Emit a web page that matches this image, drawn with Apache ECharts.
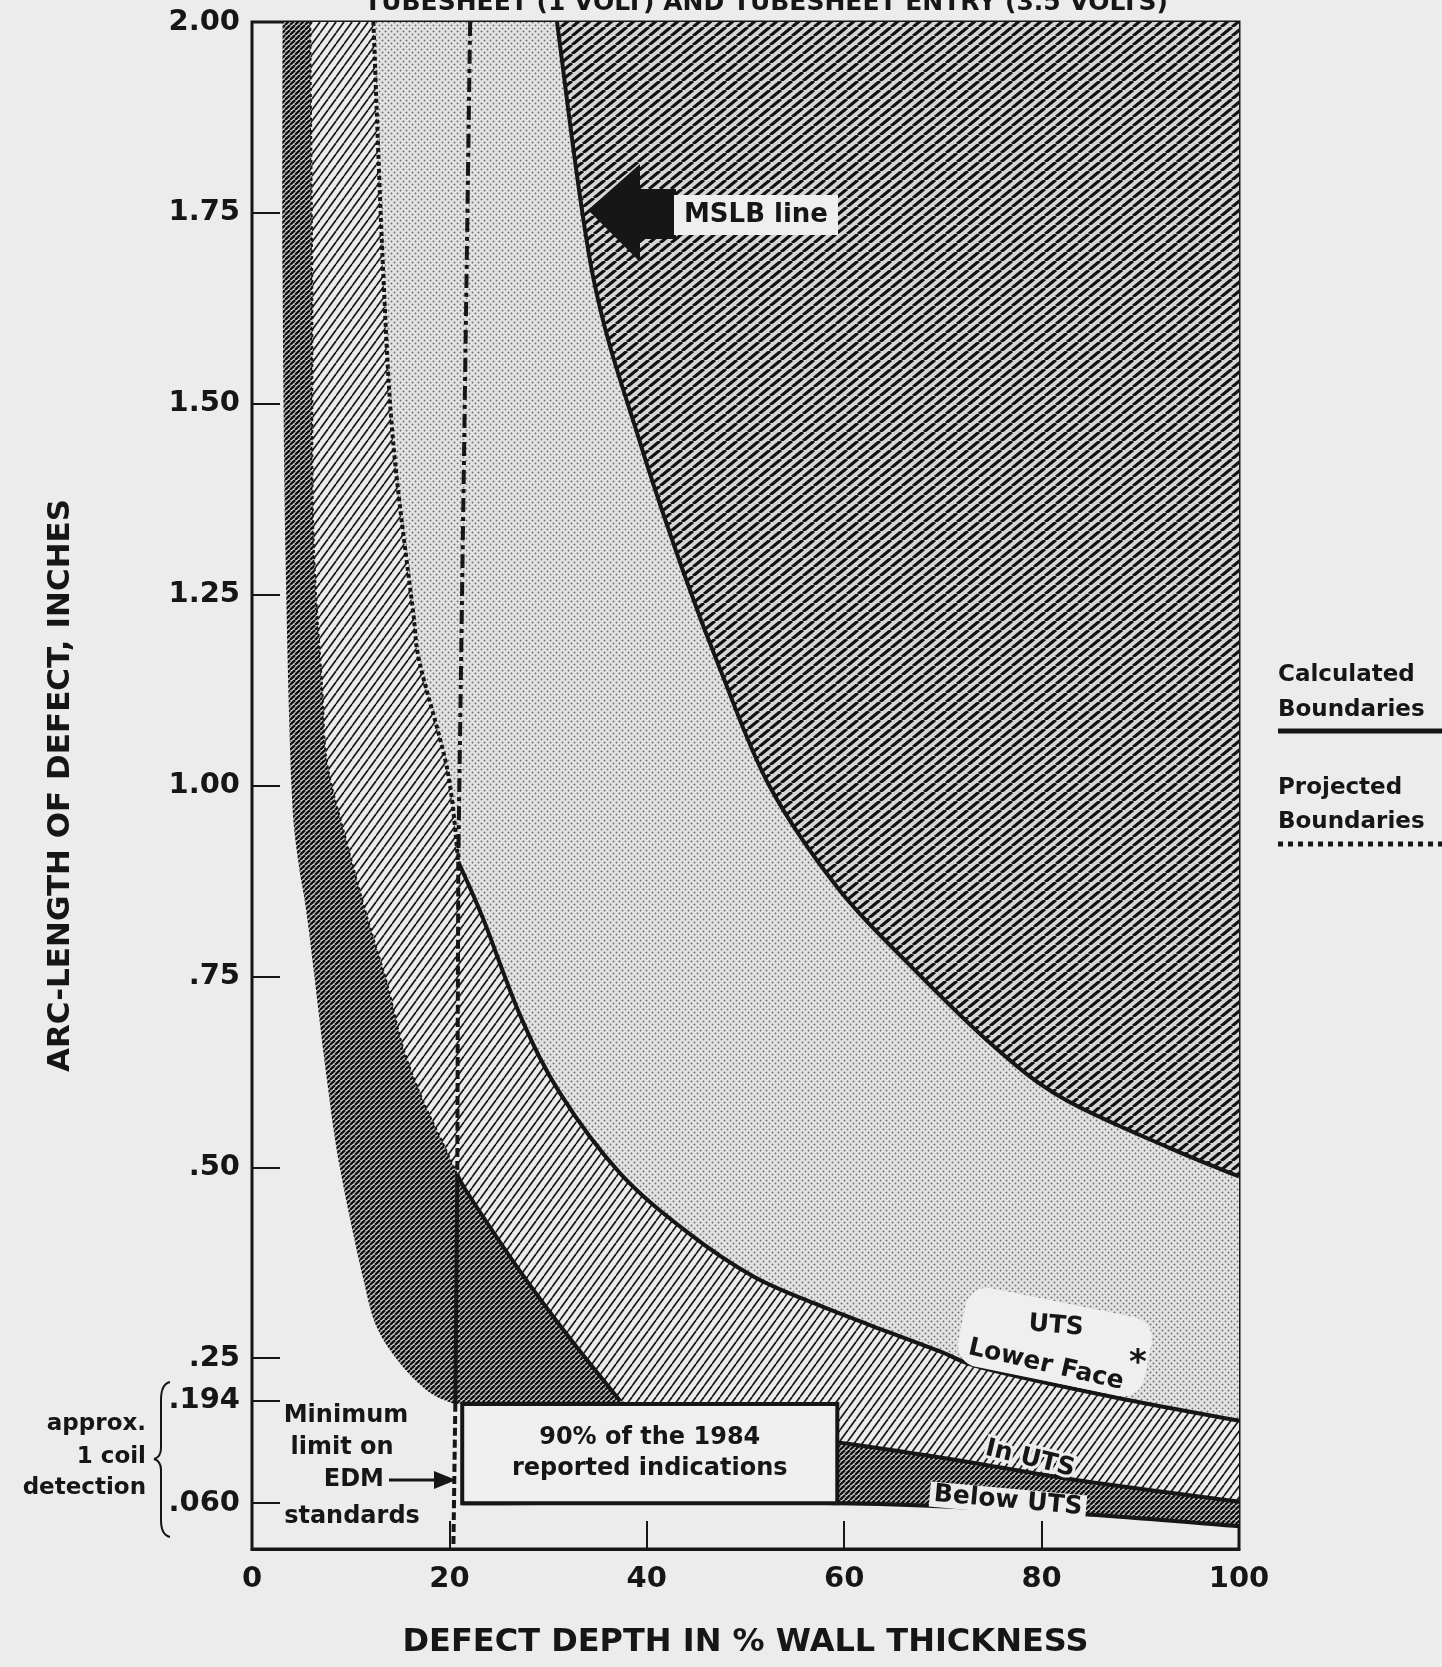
<!DOCTYPE html>
<html lang="en" style="height: 100%">
<head>
    <meta charset="UTF-8">
    <title>Arc-length of defect vs defect depth</title>
    <script src="https://cdn.jsdelivr.net/npm/echarts@6/dist/echarts.min.js"></script>
</head>
<body style="height: 100%; margin: 0; background: #ececec;">
    <div id="chart" style="width: 1442px; height: 1667px"></div>
    <script>
        // ---- axis ticks ----
        var xTicks = [0, 20, 40, 60, 80, 100];
        var yTickValues = [0.06, 0.194, 0.25, 0.5, 0.75, 1, 1.25, 1.5, 1.75, 2];
        var yTickLabels = ['.060', '.194', '.25', '.50', '.75', '1.00', '1.25', '1.50', '1.75', '2.00'];

        // ---- boundaries, [depth %, arc-length in] ----
        // outer edge of the darkest band
        var curveA = [[3.1, 2.0], [3.1, 1.67], [3.4, 1.3], [4.0, 1.0], [4.7, 0.9], [5.6, 0.826], [7.6, 0.614],
            [8.9, 0.5], [11.2, 0.358], [12.7, 0.289], [15.2, 0.24], [18.0, 0.205], [20.5, 0.19]];
        // below UTS / in UTS boundary (projected part, then calculated part left and right of the box)
        var curveBProjected = [[5.9, 2.0], [6.1, 1.67], [6.2, 1.34], [7.1, 1.13], [7.6, 1.03], [9.5, 0.93],
            [11.7, 0.826], [13.7, 0.74], [15.3, 0.657], [17.3, 0.588], [19.4, 0.53], [20.8, 0.49]];
        var curveBLeft = [[20.8, 0.49], [22.1, 0.461], [27.2, 0.363], [32.2, 0.276], [37.3, 0.194]];
        var curveBRight = [[59.3, 0.14], [70.7, 0.118], [84.2, 0.089], [100, 0.062]];
        // UTS lower face boundary
        var curveCProjected = [[12.3, 2.0], [13.3, 1.67], [14.3, 1.45], [16.3, 1.23], [17.0, 1.16], [19.8, 1.02], [20.9, 0.9]];
        var curveC = [[20.9, 0.9], [23.4, 0.826], [27.2, 0.698], [31.2, 0.597], [37.3, 0.492], [44.1, 0.415],
            [50.8, 0.357], [57.5, 0.319], [64.3, 0.285], [69.7, 0.259], [74.1, 0.237], [87.6, 0.198], [100, 0.168]];
        // MSLB line
        var mslbLine = [[30.9, 2.0], [34.5, 1.67], [39.3, 1.45], [43.7, 1.28], [47.5, 1.15], [52.4, 1.0],
            [59.4, 0.865], [66.4, 0.768], [75.1, 0.659], [82.2, 0.59], [93.0, 0.525], [100, 0.488]];
        // lower edge of the below-UTS band
        var bottomLine = [[21.3, 0.06], [59.3, 0.06], [80, 0.049], [100, 0.03]];
        // 20% line
        var vLineUpper = [[22.1, 2.0], [20.9, 0.9]];
        var vLineMid = [[20.9, 0.9], [20.8, 0.49]];
        var vLineLow = [[20.8, 0.49], [20.6, 0.19]];
        var vLineBottom = [[20.6, 0.19], [20.4, 0]];
        // box of reported indications
        var boxCorners = [[21.3, 0.06], [59.3, 0.19]];
        var boxLabel = '90% of the 1984\nreported indications';

        var INK = '#161616';
        var PAPER = '#ececec';
        var FONT = '"DejaVu Sans", sans-serif';

        function rev(a) { return a.slice().reverse(); }

        // 区域边界 (each piece drawn smooth, pieces joined straight)
        var darkRegion = [curveA, [[21.3, 0.19]], bottomLine, rev(curveBRight), rev(curveBLeft), rev(curveBProjected)];
        var lightRegion = [curveBProjected, curveBLeft, curveBRight, rev(curveC), rev(curveCProjected)];
        var stippleRegion = [curveCProjected, curveC, rev(mslbLine)];
        var hatchRegion = [mslbLine, [[100, 2.0]]];

        // ---- fill patterns ----
        function hatchTile(w, h, bg, ink, lw) {
            var c = document.createElement('canvas');
            c.width = w; c.height = h;
            var g = c.getContext('2d');
            g.fillStyle = bg; g.fillRect(0, 0, w, h);
            g.strokeStyle = ink; g.lineWidth = lw;
            [-w, 0, w].forEach(function (dx) {
                g.beginPath(); g.moveTo(dx, h); g.lineTo(dx + w, 0); g.stroke();
            });
            return { image: c, repeat: 'repeat' };
        }
        function stippleTile() {
            var c = document.createElement('canvas');
            c.width = 6; c.height = 6;
            var g = c.getContext('2d');
            g.fillStyle = '#e3e3e3'; g.fillRect(0, 0, 6, 6);
            g.fillStyle = '#707070';
            [[1.5, 1.5], [4.5, 4.5]].forEach(function (p) {
                g.beginPath(); g.arc(p[0], p[1], 0.95, 0, Math.PI * 2); g.fill();
            });
            return { image: c, repeat: 'repeat' };
        }
        var darkFill = hatchTile(5, 5, '#d0d0d0', '#111', 2.4);
        var lightFill = hatchTile(8, 11, PAPER, '#1a1a1a', 1.7);
        var hatchFill = hatchTile(11, 9, '#d6d6d6', '#111', 3.2);
        var stippleFill = stippleTile();

        // catmull-rom through the pixel points of one piece
        function smoothPath(px, start) {
            var n = px.length;
            var d = (start ? 'M' : 'L') + px[0][0] + ' ' + px[0][1];
            for (var i = 0; i < n - 1; i++) {
                var p0 = px[Math.max(i - 1, 0)], p1 = px[i], p2 = px[i + 1], p3 = px[Math.min(i + 2, n - 1)];
                d += 'C' + (p1[0] + (p2[0] - p0[0]) / 6) + ' ' + (p1[1] + (p2[1] - p0[1]) / 6) + ' '
                    + (p2[0] - (p3[0] - p1[0]) / 6) + ' ' + (p2[1] - (p3[1] - p1[1]) / 6) + ' '
                    + p2[0] + ' ' + p2[1];
            }
            return d;
        }
        function piecePx(api, piece) {
            return piece.map(function (p) { return api.coord(p); });
        }

        function regionSeries(pieces, fill) {
            return {
                type: 'custom', silent: true, z: 1,
                data: [[0, 0]],
                renderItem: function (params, api) {
                    var d = pieces.map(function (pc, i) { return smoothPath(piecePx(api, pc), i === 0); }).join('') + 'Z';
                    return { type: 'path', shape: { pathData: d }, style: { fill: fill, stroke: null } };
                }
            };
        }
        function curveSeries(data, width, dash) {
            return {
                type: 'custom', silent: true, z: 3,
                data: [[0, 0]],
                renderItem: function (params, api) {
                    return {
                        type: 'path',
                        shape: { pathData: smoothPath(piecePx(api, data), true) },
                        style: { fill: null, stroke: INK, lineWidth: width, lineDash: dash || null }
                    };
                }
            };
        }
        function txt(text, x, y, size, extra) {
            var style = {
                text: text, fontSize: size, fontWeight: 'bold', fontFamily: FONT, fill: INK,
                align: 'center', verticalAlign: 'middle'
            };
            var el = { type: 'text', x: x, y: y, z: 20, style: style };
            if (extra) {
                for (var k in extra) {
                    if (k === 'rotation') el.rotation = extra[k]; else style[k] = extra[k];
                }
            }
            return el;
        }
        function seg(x1, y1, x2, y2, w, dash) {
            return {
                type: 'line', z: 20, shape: { x1: x1, y1: y1, x2: x2, y2: y2 },
                style: { stroke: INK, lineWidth: w, lineDash: dash || null }
            };
        }
        function curl(x1, y1, cx, cy, x2, y2) {
            return {
                type: 'bezierCurve', z: 20, shape: { x1: x1, y1: y1, cpx1: cx, cpy1: cy, x2: x2, y2: y2 },
                style: { stroke: INK, lineWidth: 2, fill: null }
            };
        }

        var myChart = echarts.init(document.getElementById('chart'));

        var option = {
            backgroundColor: PAPER,
            animation: false,
            grid: { left: 252, right: 203, top: 22, bottom: 118, show: true, borderColor: INK, borderWidth: 3 },
            xAxis: {
                type: 'value', min: 0, max: 100, interval: 20,
                name: 'DEFECT DEPTH IN % WALL THICKNESS', nameLocation: 'middle', nameGap: 78,
                nameTextStyle: { fontFamily: FONT, fontWeight: 'bold', fontSize: 32, color: INK },
                axisLine: { lineStyle: { color: INK, width: 3 } },
                axisTick: { inside: true, length: 28, lineStyle: { color: INK, width: 2 } },
                axisLabel: {
                    customValues: xTicks, margin: 16,
                    fontFamily: FONT, fontWeight: 'bold', fontSize: 29, color: INK
                },
                splitLine: { show: false }
            },
            yAxis: {
                type: 'value', min: 0, max: 2,
                name: 'ARC-LENGTH OF DEFECT, INCHES', nameLocation: 'middle', nameGap: 176, nameRotate: 90,
                nameTextStyle: { fontFamily: FONT, fontWeight: 'bold', fontSize: 31, color: INK },
                axisLine: { show: true, lineStyle: { color: INK, width: 2 } },
                axisTick: { show: true, inside: true, length: 28, customValues: yTickValues, lineStyle: { color: INK, width: 2 } },
                axisLabel: {
                    customValues: yTickValues, margin: 12,
                    fontFamily: FONT, fontWeight: 'bold', fontSize: 29, color: INK,
                    formatter: function (v) {
                        for (var i = 0; i < yTickValues.length; i++) {
                            if (Math.abs(yTickValues[i] - v) < 1e-6) return yTickLabels[i];
                        }
                        return '';
                    }
                },
                splitLine: { show: false }
            },
            series: [
                regionSeries(hatchRegion, hatchFill),
                regionSeries(stippleRegion, stippleFill),
                regionSeries(lightRegion, lightFill),
                regionSeries(darkRegion, darkFill),
                curveSeries(mslbLine, 4),
                curveSeries(curveC, 4),
                curveSeries(curveCProjected, 4, [4, 3]),
                curveSeries(curveBLeft, 4),
                curveSeries(curveBRight, 4),
                curveSeries(curveBProjected, 2, [3, 3]),
                curveSeries(bottomLine, 4),
                curveSeries(vLineUpper, 4, [14, 5, 4, 5]),
                curveSeries(vLineMid, 4, [9, 4]),
                curveSeries(vLineLow, 4),
                curveSeries(vLineBottom, 4, [8, 4]),
                {
                    type: 'custom', silent: true, z: 4,
                    data: [[0, 0]],
                    renderItem: function (params, api) {
                        var p0 = api.coord(boxCorners[0]);
                        var p1 = api.coord(boxCorners[1]);
                        return {
                            type: 'group',
                            children: [{
                                type: 'rect',
                                shape: { x: p0[0], y: p1[1], width: p1[0] - p0[0], height: p0[1] - p1[1] },
                                style: { fill: '#efefef', stroke: INK, lineWidth: 4 }
                            }, {
                                type: 'text',
                                x: (p0[0] + p1[0]) / 2, y: (p0[1] + p1[1]) / 2,
                                style: {
                                    text: boxLabel, fontSize: 24, fontWeight: 'bold', fontFamily: FONT, fill: INK,
                                    align: 'center', verticalAlign: 'middle', lineHeight: 31
                                }
                            }]
                        };
                    }
                }
            ],
            graphic: [
                // title line, cut off by the top edge like the scan
                txt('TUBESHEET (1 VOLT) AND TUBESHEET ENTRY (3.5 VOLTS)', 766, 3, 25),
                // detection note with brace
                txt('approx.', 146, 1424, 23, { align: 'right' }),
                txt('1 coil', 146, 1457, 23, { align: 'right' }),
                txt('detection', 146, 1488, 23, { align: 'right' }),
                curl(170, 1382, 161, 1384, 161, 1400),
                seg(161, 1400, 161, 1448, 2),
                curl(161, 1448, 161, 1457, 154, 1459),
                curl(154, 1459, 161, 1461, 161, 1470),
                seg(161, 1470, 161, 1520, 2),
                curl(161, 1520, 161, 1535, 170, 1537),
                txt('Minimum', 346, 1416, 24),
                txt('limit on', 342, 1448, 24),
                txt('EDM', 384, 1480, 24, { align: 'right' }),
                txt('standards', 352, 1517, 24),
                seg(389, 1480, 440, 1480, 3),
                { type: 'polygon', z: 20, shape: { points: [[456, 1480], [434, 1471], [434, 1489]] }, style: { fill: INK } },
                // MSLB label and arrow
                {
                    type: 'polygon', z: 20,
                    shape: { points: [[588, 210], [640, 164], [640, 189], [676, 189], [676, 239], [640, 239], [640, 262]] },
                    style: { fill: INK }
                },
                txt('MSLB line', 756, 215, 26, { backgroundColor: '#efefef', padding: [7, 10, 7, 10] }),
                // UTS lower face label
                {
                    type: 'rect', z: 19, x: 1055, y: 1342, rotation: -0.2,
                    shape: { x: -95, y: -40, width: 190, height: 80, r: 22 },
                    style: { fill: '#efefef' }
                },
                txt('UTS', 1056, 1326, 25, { rotation: -0.08 }),
                txt('Lower Face', 1046, 1365, 25, { rotation: -0.225 }),
                txt('*', 1138, 1364, 34),
                txt('In UTS', 1030, 1459, 25, { rotation: -0.24, stroke: PAPER, lineWidth: 6 }),
                txt('Below UTS', 1008, 1501, 25, { rotation: -0.09, backgroundColor: PAPER, padding: [0, 4, 0, 4] }),
                // boundary key
                txt('Calculated', 1278, 675, 23, { align: 'left' }),
                txt('Boundaries', 1278, 710, 23, { align: 'left' }),
                seg(1278, 731, 1442, 731, 5),
                txt('Projected', 1278, 788, 23, { align: 'left' }),
                txt('Boundaries', 1278, 822, 23, { align: 'left' }),
                seg(1278, 844, 1442, 844, 5, [5, 5])
            ]
        };

        myChart.setOption(option);
    </script>
</body>
</html>
